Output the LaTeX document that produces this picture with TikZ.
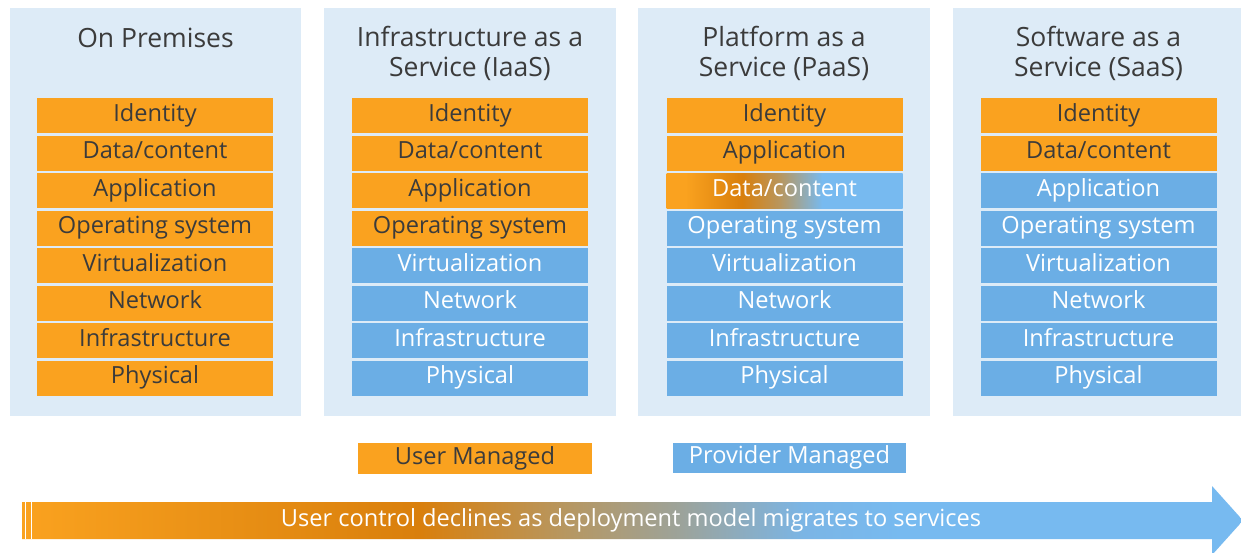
\documentclass[tikz,border=0pt]{standalone}
\usepackage{fontspec}
\setmainfont{Open Sans}
\definecolor{panelbg}{HTML}{DDEBF7}
\definecolor{orC}{HTML}{FAA21F}
\definecolor{blC}{HTML}{6BAEE5}
\definecolor{txtD}{HTML}{3B3B3B}
\definecolor{orD}{HTML}{D97F0C}
\definecolor{tanC}{HTML}{B8965E}
\definecolor{grC}{HTML}{9CA39B}
\definecolor{blM}{HTML}{7BB5E5}
\definecolor{blA}{HTML}{77BAF0}
\pgfdeclarehorizontalshading{arrowshade}{100bp}{color(0bp)=(orC); color(25bp)=(orC); color(41.3bp)=(orD); color(47bp)=(tanC); color(52bp)=(grC); color(57bp)=(blM); color(61bp)=(blA); color(75bp)=(blA); color(100bp)=(blA)}
\pgfdeclarehorizontalshading{cellshade}{100bp}{color(0bp)=(orC); color(29bp)=(orC); color(41bp)=(orD); color(49bp)=(tanC); color(58bp)=(blA); color(75bp)=(blA); color(100bp)=(blA)}
\begin{document}
\begin{tikzpicture}[x=1pt,y=-1pt,
  panel/.style={fill=panelbg, draw=none, anchor=north west, minimum width=291pt, minimum height=408pt, inner sep=0pt},
  title/.style={font=\fontsize{26.5}{30}\selectfont, text=txtD, align=center},
  cell/.style={minimum width=236pt, minimum height=35pt, inner sep=0pt, text height=17pt, text depth=5.5pt, font=\fontsize{23.6}{27}\selectfont},
  user/.style={cell, fill=orC, text=txtD},
  prov/.style={cell, fill=blC, text=white},
  mixed/.style={cell, shading=cellshade, shade, text=white},
]
\useasboundingbox (0,0) rectangle (1241,552);
\fill[white] (0,0) rectangle (1241,552);

% panels
\node[panel] (p1) at (10,8) {};
\node[panel, minimum width=292pt] (p2) at (324,8) {};
\node[panel, minimum width=292pt] (p3) at (638,8) {};
\node[panel, minimum width=292pt] (p4) at (953,8) {};

% titles
\node[title] (t1) at (155.5,38) {On Premises};
\node[title] (t2) at (470,53) {Infrastructure as a\\Service (IaaS)};
\node[title] (t3) at (784,53) {Platform as a\\Service (PaaS)};
\node[title] (t4) at (1098.5,53) {Software as a\\Service (SaaS)};

% column 1
\node[user] (a1) at (155,115.5) {Identity};
\node[user] (a2) at (155,153) {Data/content};
\node[user] (a3) at (155,190.5) {Application};
\node[user] (a4) at (155,228) {Operating system};
\node[user] (a5) at (155,265.5) {Virtualization};
\node[user] (a6) at (155,303) {Network};
\node[user] (a7) at (155,340.5) {Infrastructure};
\node[user] (a8) at (155,378) {Physical};

% column 2
\node[user] (b1) at (470,115.5) {Identity};
\node[user] (b2) at (470,153) {Data/content};
\node[user] (b3) at (470,190.5) {Application};
\node[user] (b4) at (470,228) {Operating system};
\node[prov] (b5) at (470,265.5) {Virtualization};
\node[prov] (b6) at (470,303) {Network};
\node[prov] (b7) at (470,340.5) {Infrastructure};
\node[prov] (b8) at (470,378) {Physical};

% column 3
\node[user] (c1) at (784.5,115.5) {Identity};
\node[user] (c2) at (784.5,153) {Application};
\node[mixed] (c3) at (784.5,190.5) {Data/content};
\node[prov] (c4) at (784.5,228) {Operating system};
\node[prov] (c5) at (784.5,265.5) {Virtualization};
\node[prov] (c6) at (784.5,303) {Network};
\node[prov] (c7) at (784.5,340.5) {Infrastructure};
\node[prov] (c8) at (784.5,378) {Physical};

% column 4
\node[user] (d1) at (1098.5,115.5) {Identity};
\node[user] (d2) at (1098.5,153) {Data/content};
\node[prov] (d3) at (1098.5,190.5) {Application};
\node[prov] (d4) at (1098.5,228) {Operating system};
\node[prov] (d5) at (1098.5,265.5) {Virtualization};
\node[prov] (d6) at (1098.5,303) {Network};
\node[prov] (d7) at (1098.5,340.5) {Infrastructure};
\node[prov] (d8) at (1098.5,378) {Physical};

% legend
\node[user, minimum width=234pt, minimum height=31pt] (lu) at (475,458.5) {User Managed};
\node[prov, minimum width=233pt, minimum height=30pt] (lp) at (789.5,458) {Provider Managed};

% arrow
\path[shading=arrowshade, shade] (22,502) -- (1212,502) -- (1212,486) -- (1243,520.5) -- (1212,555) -- (1212,539) -- (22,539) -- cycle;
\draw[white, line width=1.3pt] (25.3,502) -- (25.3,539);
\draw[white, line width=1.3pt] (31.8,502) -- (31.8,539);
\node[font=\fontsize{23.6}{27}\selectfont, text=white, text height=17pt, text depth=5.5pt, inner sep=0pt] (ctrl) at (631,520.5) {User control declines as deployment model migrates to services};
\end{tikzpicture}
\end{document}
